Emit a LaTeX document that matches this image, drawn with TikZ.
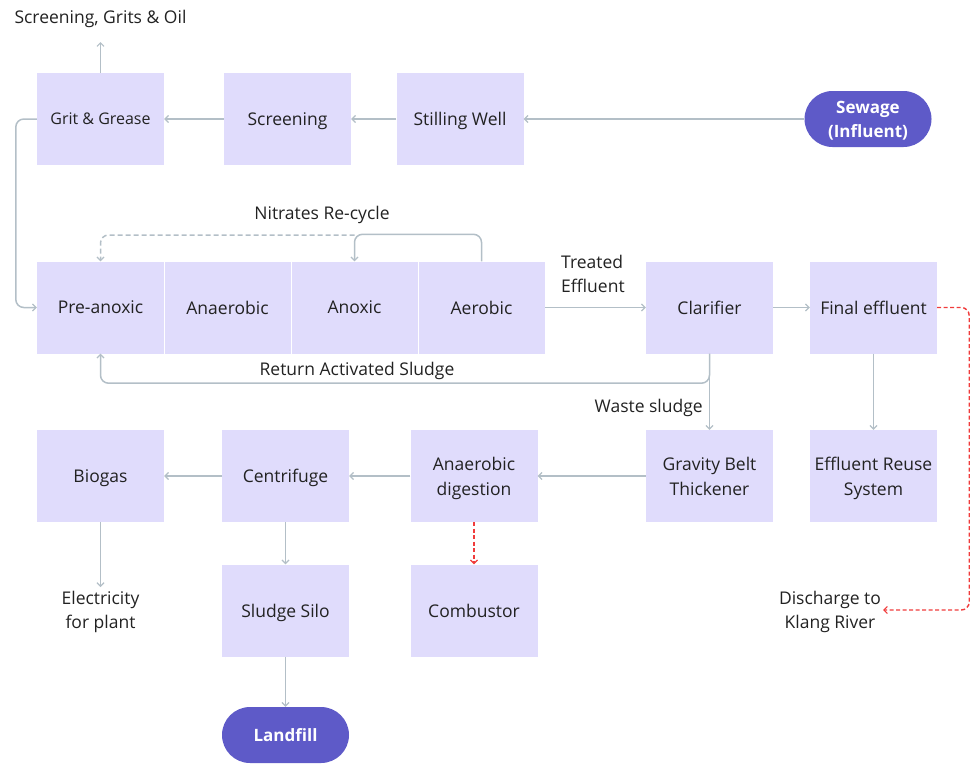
\documentclass[tikz,border=0pt]{standalone}
\usepackage{fontspec}
\setmainfont{Open Sans}
\usetikzlibrary{arrows.meta}

\definecolor{boxfill}{HTML}{E0DCFC}
\definecolor{pillfill}{HTML}{5E5AC8}
\definecolor{linec}{HTML}{B3BFC7}
\definecolor{redc}{HTML}{F03C3C}
\definecolor{ink}{HTML}{222222}

\tikzset{
  stage/.style={fill=boxfill, minimum width=127, minimum height=92, inner sep=0,
    align=center, text=ink, text depth=0pt, font=\fontsize{17.5}{25}\selectfont},
  pill/.style={fill=pillfill, rounded corners=28, minimum width=127, minimum height=56,
    inner sep=0, align=center, text=white, text depth=0pt, font=\fontsize{17}{24}\selectfont\bfseries},
  flow/.style={draw=linec, line width=1.5, rounded corners=8,
    -{Straight Barb[length=3.5,width=7,line width=1.2]}},
  redflow/.style={draw=redc, line width=1.4, rounded corners=8, dash pattern=on 4 off 2.5,
    -{Straight Barb[length=3.5,width=7,line width=1.2]}},
  lbl/.style={text=ink, align=center, inner sep=0, text depth=0pt, font=\fontsize{17.5}{24}\selectfont},
}

\begin{document}
\begin{tikzpicture}[x=1pt,y=-1pt]
\useasboundingbox (0,0) rectangle (971,763);

% top row: pre-treatment
\node[stage, font=\fontsize{16}{22}\selectfont] (grit) at (100.5,119) {Grit \& Grease};
\node[stage] (screen) at (287.5,119) {Screening};
\node[stage] (still) at (460,119) {Stilling Well};
\node[pill] (sewage) at (868,119) {Sewage\\(Influent)};
\node[lbl] (sgo) at (100.5,17) {Screening, Grits \& Oil};
\coordinate (sgoin) at (100.5,42);

% biological reactor
\node[stage] (pre) at (100.5,307.5) {Pre-anoxic};
\node[stage] (anaer) at (227.5,307.5) {Anaerobic};
\node[stage] (anox) at (354.5,307.5) {Anoxic};
\node[stage] (aer) at (481.5,307.5) {Aerobic};
\draw[white, line width=0.6] (pre.north east) -- (pre.south east)
  (anaer.north east) -- (anaer.south east) (anox.north east) -- (anox.south east);
\node[stage] (clar) at (709.5,307.5) {Clarifier};
\node[stage] (final) at (873.5,307.5) {Final effluent};
\node[lbl] (nitr) at (322,213) {Nitrates Re-cycle};
\node[lbl, anchor=west, align=left] (treat) at (561,274) {Treated\\Effluent};
\node[lbl] (ras) at (357,369) {Return Activated Sludge};
\node[lbl, anchor=east] (waste) at (703,406) {Waste sludge};
\coordinate (nj) at (354.5,235);

% sludge line
\node[stage] (biogas) at (100.5,476) {Biogas};
\node[stage] (centr) at (285.5,476) {Centrifuge};
\node[stage] (anad) at (474,476) {Anaerobic\\digestion};
\node[stage] (gbt) at (709.5,476) {Gravity Belt\\Thickener};
\node[stage] (reuse) at (873.5,476) {Effluent Reuse\\System};
\node[stage] (silo) at (285.5,610.5) {Sludge Silo};
\node[stage] (comb) at (474,610.5) {Combustor};
\node[pill] (landfill) at (285.5,735) {Landfill};
\node[lbl] (elec) at (100.5,610) {Electricity\\for plant};
\node[lbl] (disch) at (830,610) {Discharge to\\Klang River};
\coordinate (elecin) at (100.5,587);
\coordinate (dischin) at (883,610);

% connectors
\draw[flow] (sewage.west) -- (still.east);
\draw[flow] (still.west) -- (screen.east);
\draw[flow] (screen.west) -- (grit.east);
\draw[flow] (grit.north) -- (sgoin);
\draw[flow] (grit.west) -- ++(-21,0) |- (pre.west);
\draw[flow] (aer.north) -- ++(0,-27) -| (anox.north);
\draw[flow, dash pattern=on 5 off 3] (nj) -| (pre.north);
\draw[flow] (aer.east) -- (clar.west);
\draw[flow] (clar.east) -- (final.west);
\draw[flow] (clar.south) -- (gbt.north);
\draw[flow] (clar.south) -- ++(0,29.5) -| (pre.south);
\draw[flow] (final.south) -- (reuse.north);
\draw[redflow] (final.east) -- ++(32,0) |- (dischin);
\draw[flow] (gbt.west) -- (anad.east);
\draw[flow] (anad.west) -- (centr.east);
\draw[flow] (centr.west) -- (biogas.east);
\draw[flow] (biogas.south) -- (elecin);
\draw[flow] (centr.south) -- (silo.north);
\draw[redflow] (anad.south) -- (comb.north);
\draw[flow] (silo.south) -- (landfill.north);
\end{tikzpicture}
\end{document}
